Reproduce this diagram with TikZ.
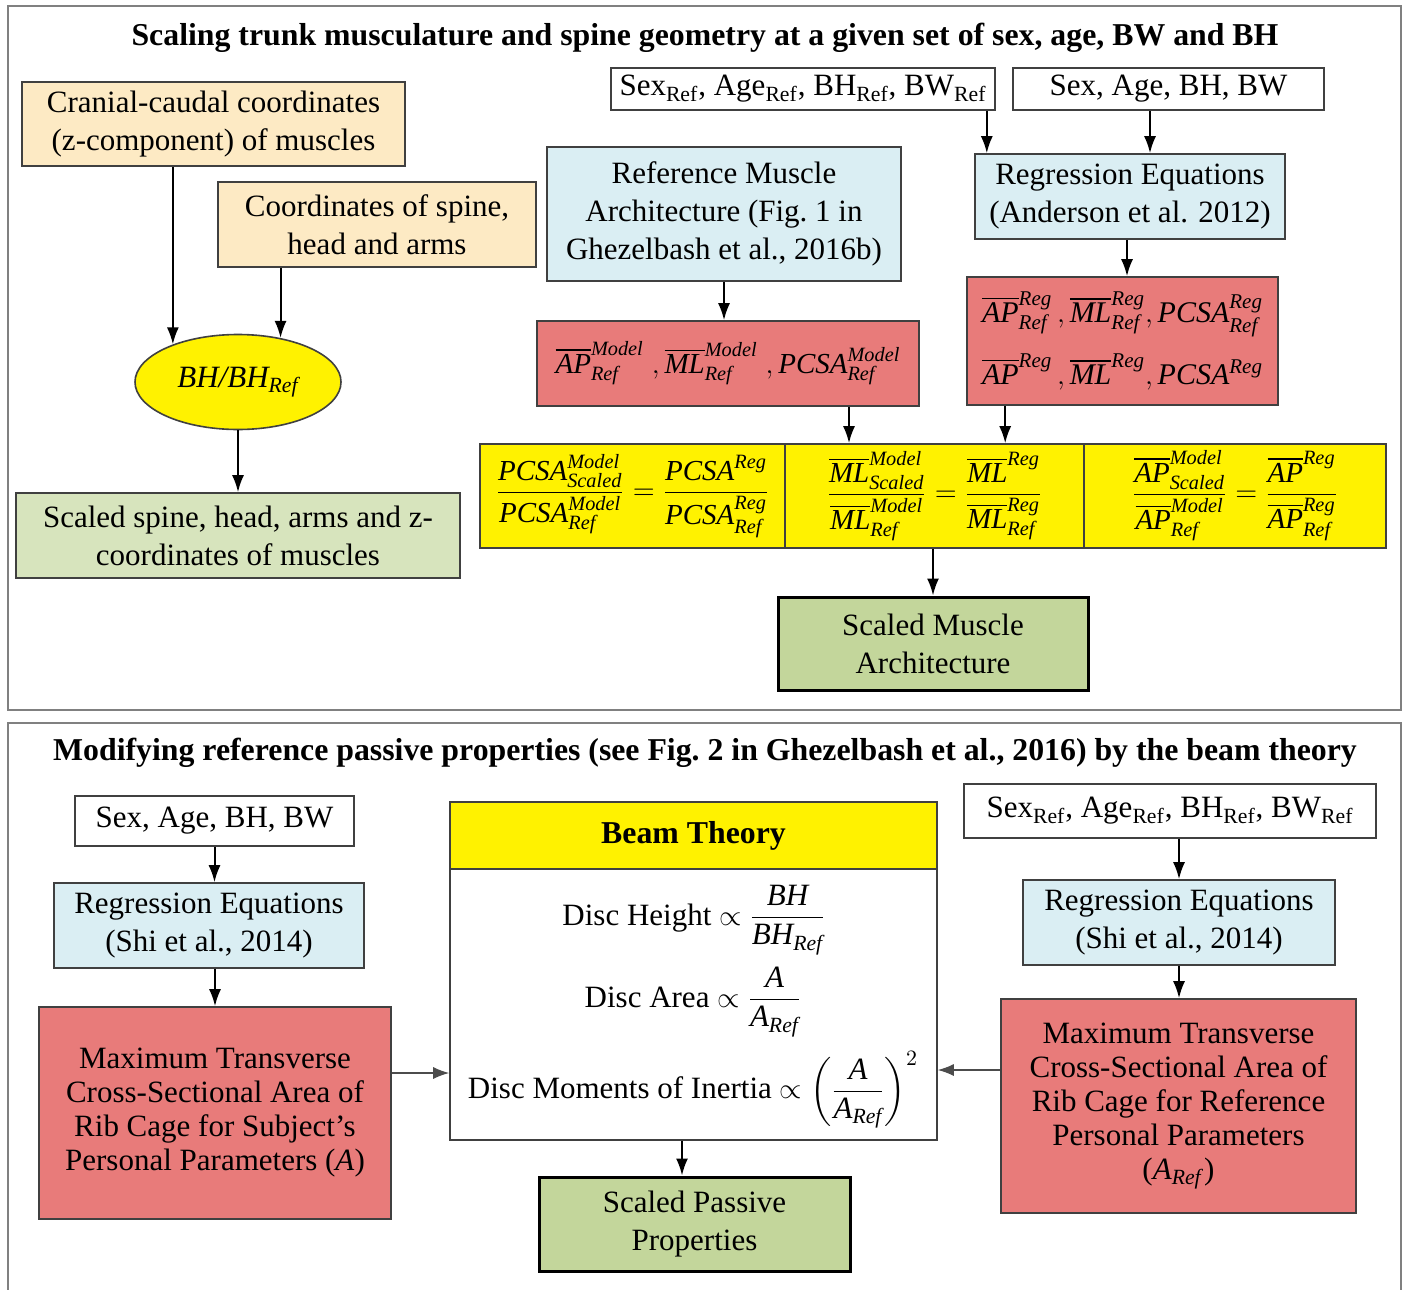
\documentclass[tikz,border=0pt]{standalone}
\usepackage{amsmath}
\usepackage{fontspec}
\setmainfont{Liberation Serif}
\usetikzlibrary{arrows.meta,calc,shapes.geometric}
\definecolor{beige}{RGB}{253,234,196}
\definecolor{lblue}{RGB}{218,238,243}
\definecolor{redf}{RGB}{232,123,122}
\definecolor{lgreen}{RGB}{215,228,189}
\definecolor{dgreen}{RGB}{195,214,155}
\definecolor{bord}{RGB}{64,64,64}
\definecolor{framec}{RGB}{128,128,128}
\newcommand\myfont{\fontsize{15.5}{19}\selectfont}
\newcommand\titlefont{\fontsize{15.9}{19}\selectfont\bfseries}
\newcommand\myfonttight{\fontsize{15.5}{17}\selectfont}
\newcommand\mfnt{\fontsize{14.5}{17}\selectfont}
\newcommand\mi[1]{\text{\itshape #1}}
\newcommand\mRef{\mi{Ref}}
\newcommand\mModel{\mi{Model}}
\newcommand\mReg{\mi{Reg}}
\newcommand\mScaled{\mi{Scaled}}
\newcommand\oAP{\overline{\mi{AP}}}
\newcommand\oML{\overline{\mi{ML}}}
\newcommand\PCSA{\mi{PCSA}}
\newcommand\sR{\textsubscript{Ref}}
\begin{document}
\begin{tikzpicture}[x=0.5pt,y=-0.5pt,
  box/.style={draw=bord, line width=0.8pt, inner sep=0pt, align=center, font=\myfont},
  thick box/.style={box, draw=black, line width=1.5pt},
  arr/.style={-{Latex[length=8.5pt,width=6pt]}, line width=1pt, draw=black},
  thinarr/.style={-{Latex[length=8pt,width=6pt]}, line width=0.6pt, draw=black!70},
  framestyle/.style={draw=framec, line width=1pt}]
\useasboundingbox (0,0) rectangle (1406,1289);
\fill[white] (0,0) rectangle (1406,1289);

% frames
\draw[framestyle] (8,6) rectangle (1401,710);
\draw[framestyle] (8,1295) -- (8,723) -- (1401,723) -- (1401,1295);

% titles
\node[font=\titlefont] (t1) at (705,38) {Scaling trunk musculature and spine geometry at a given set of sex, age, BW and BH};
\node[font=\titlefont] (t2) at (705,753) {Modifying reference passive properties (see Fig.~2 in Ghezelbash et al., 2016) by the beam theory};

% ---------- top panel ----------
\node[box, fill=beige, minimum width=191.5pt, minimum height=42pt] (cran) at (213.5,124) {Cranial-caudal coordinates\\(z-component) of muscles};
\node[box, fill=beige, minimum width=159pt, minimum height=42.5pt] (coord) at (377,224.5) {Coordinates of spine,\\head and arms};
\node[box, fill=white, minimum width=192pt, minimum height=21pt] (sexref1) at (803,89) {Sex\sR, Age\sR, BH\sR, BW\sR};
\node[box, fill=white, minimum width=155.5pt, minimum height=21pt] (sex1) at (1168.5,89) {Sex, Age, BH, BW};
\node[box, fill=lblue, minimum width=177pt, minimum height=67pt] (refmus) at (724,214) {Reference Muscle\\Architecture (Fig.~1 in\\Ghezelbash et al., 2016b)};
\node[box, fill=lblue, minimum width=155pt, minimum height=42.5pt] (regA) at (1130,196.5) {Regression Equations\\(Anderson et al. 2012)};
\node[box, fill=redf, minimum width=191pt, minimum height=42.5pt, font=\mfnt] (red1) at (728,363.5)
  {$\oAP^{\mModel}_{\mRef}\;,\oML^{\mModel}_{\mRef}\;,\PCSA^{\mModel}_{\mRef}$};
\node[box, fill=redf, minimum width=155.5pt, minimum height=64pt, font={\fontsize{15}{31}\selectfont}] (red2) at (1122.5,341)
  {$\oAP^{\mReg}_{\mRef}\,,\oML^{\mReg}_{\mRef},\PCSA^{\mReg}_{\mRef}$\\$\oAP^{\mReg}\,,\oML^{\mReg},\PCSA^{\mReg}$};
\node[ellipse, draw=bord, line width=0.8pt, fill=yellow, inner sep=0pt, minimum width=103pt, minimum height=47.5pt, font={\fontsize{15.5}{18}\selectfont}] (ell) at (238,382) {$\mi{BH/BH}_{\mRef}$};
\node[box, fill=lgreen, minimum width=222pt, minimum height=42.5pt] (scspine) at (238,535.5) {Scaled spine, head, arms and z-\\coordinates of muscles};

\node[box, fill=yellow, minimum width=152.5pt, minimum height=52pt, font=\mfnt] (eqP) at (632.5,496)
  {$\displaystyle\frac{\PCSA^{\mModel}_{\mScaled}}{\PCSA^{\mModel}_{\mRef}}=\frac{\PCSA^{\mReg}}{\PCSA^{\mReg}_{\mRef}}$};
\node[box, fill=yellow, minimum width=149.5pt, minimum height=52pt, font=\mfnt] (eqM) at (934.5,496)
  {$\displaystyle\frac{\oML^{\mModel}_{\mScaled}}{\oML^{\mModel}_{\mRef}}=\frac{\oML^{\mReg}}{\oML^{\mReg}_{\mRef}}$};
\node[box, fill=yellow, minimum width=151pt, minimum height=52pt, font=\mfnt] (eqA) at (1235,496)
  {$\displaystyle\frac{\oAP^{\mModel}_{\mScaled}}{\oAP^{\mModel}_{\mRef}}=\frac{\oAP^{\mReg}}{\oAP^{\mReg}_{\mRef}}$};
\node[thick box, fill=dgreen, minimum width=155pt, minimum height=46.5pt] (scmus) at (933,643.5) {Scaled Muscle\\Architecture};

% top arrows
\draw[arr] (cran.south -| ell.150.5) -- (ell.150.5);
\draw[arr] (coord.south -| ell.46) -- (ell.46);
\draw[arr] (ell.south) -- (scspine.north);
\coordinate (a1) at ($(sexref1.south east)+(-9,0)$);
\draw[arr] (a1) -- (a1 |- regA.north);
\coordinate (a2) at ($(regA.north)+(20,0)$);
\draw[arr] (a2 |- sex1.south) -- (a2);
\draw[arr] (refmus.south) -- (refmus.south |- red1.north);
\coordinate (a2b) at ($(regA.south)+(-3,0)$);
\draw[arr] (a2b) -- (a2b |- red2.north);
\coordinate (a3) at ($(red1.south)+(121,0)$);
\draw[arr] (a3) -- (a3 |- eqM.north);
\coordinate (a4) at ($(red2.south west)+(39,0)$);
\draw[arr] (a4) -- (a4 |- eqM.north);
\coordinate (a4b) at ($(eqM.south)+(-1.5,0)$);
\draw[arr] (a4b) -- (a4b |- scmus.north);

% ---------- bottom panel ----------
\node[box, fill=white, minimum width=139.5pt, minimum height=25pt] (sex2) at (214.5,821) {Sex, Age, BH, BW};
\node[box, fill=lblue, minimum width=155pt, minimum height=42.5pt] (regS1) at (209,925.5) {Regression Equations\\(Shi et al., 2014)};
\node[box, fill=redf, minimum width=176pt, minimum height=106pt, font=\myfonttight] (redL) at (215,1113) {Maximum Transverse\\Cross-Sectional Area of\\Rib Cage for Subject’s\\Personal Parameters (\textit{A})};
\node[box, fill=yellow, minimum width=243.5pt, minimum height=33.5pt, font=\titlefont] (beamH) at (693.5,835.5) {Beam Theory};
\node[box, fill=white, minimum width=243.5pt, minimum height=135.5pt] (beamB) at (693.5,1004.5) {};
\node[font=\myfont, inner sep=0pt] (dh) at (694,920) {Disc Height $\displaystyle\propto\frac{\mi{BH}}{\mi{BH}_{\mRef}}$};
\node[font=\myfont, inner sep=0pt] (da) at (693,1002) {Disc Area $\displaystyle\propto\frac{\mi{A}}{\mi{A}_{\mRef}}$};
\node[font=\myfont, inner sep=0pt] (dm) at (693,1090) {Disc Moments of Inertia $\displaystyle\propto\left(\frac{\mi{A}}{\mi{A}_{\mRef}}\right)^{2}$};
\node[box, fill=white, minimum width=206pt, minimum height=27pt] (sexref2) at (1170,811) {Sex\sR, Age\sR, BH\sR, BW\sR};
\node[box, fill=lblue, minimum width=156pt, minimum height=42.5pt] (regS2) at (1179,922.5) {Regression Equations\\(Shi et al., 2014)};
\node[box, fill=redf, minimum width=177.5pt, minimum height=107pt, font=\myfonttight] (redR) at (1178.5,1106) {Maximum Transverse\\Cross-Sectional Area of\\Rib Cage for Reference\\Personal Parameters\\(\textit{A}\textsubscript{\textit{Ref}})};
\node[thick box, fill=dgreen, minimum width=155.5pt, minimum height=47pt] (scpas) at (694.5,1224) {Scaled Passive\\Properties};

% bottom arrows
\draw[arr] (sex2.south) -- (sex2.south |- regS1.north);
\draw[arr] (redL.north |- regS1.south) -- (redL.north);
\coordinate (a5) at ($(redL.east)+(0,-40)$);
\draw[thinarr] (a5) -- (a5 -| beamB.west);
\draw[arr] (regS2.north |- sexref2.south) -- (regS2.north);
\draw[arr] (regS2.south) -- (regS2.south |- redR.north);
\coordinate (a6) at ($(redR.west)+(0,-36)$);
\draw[thinarr] (a6) -- (a6 -| beamB.east);
\coordinate (a7) at ($(beamB.south)+(-11.5,0)$);
\draw[arr] (a7) -- (a7 |- scpas.north);
\end{tikzpicture}
\end{document}
